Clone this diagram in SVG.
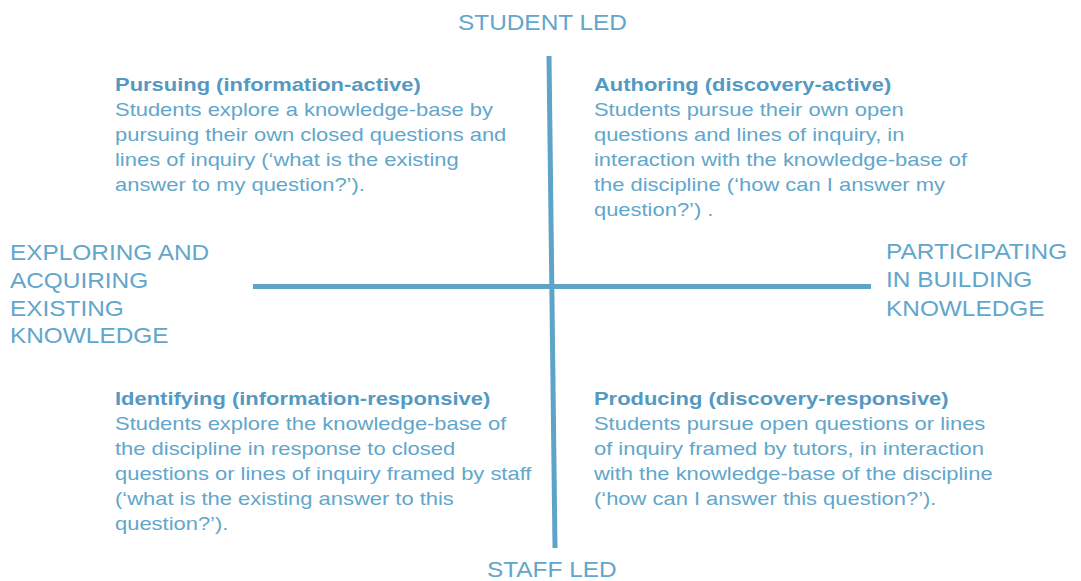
<svg xmlns="http://www.w3.org/2000/svg" width="1081" height="581" viewBox="0 0 1081 581">
  <style>
    text { font-family: "Liberation Sans", Arial, Helvetica, sans-serif; fill: #62a6cb; }
    .label { font-size: 21.4px; }
    .body { font-size: 19.25px; }
    .head { font-size: 19.25px; font-weight: bold; fill: #5499c2; }
    .axis { stroke: #5ea3c8; stroke-width: 5; fill: none; }
  </style>
  <rect width="1081" height="581" fill="#ffffff"/>
  <g id="connectors">
    <line class="axis" x1="549" y1="56" x2="555" y2="548"/>
    <line class="axis" x1="253" y1="286.5" x2="871" y2="286.5"/>
  </g>
  <g transform="translate(0,1) scale(1.14,1)">
    <g id="student-led">
      <text class="label" x="401.75" y="29">STUDENT LED</text>
    </g>
    <g id="staff-led">
      <text class="label" x="427.2" y="576.5">STAFF LED</text>
    </g>
    <g id="exploring">
      <text class="label" x="8.77" y="259.5">EXPLORING AND</text>
      <text class="label" x="8.77" y="287">ACQUIRING</text>
      <text class="label" x="8.77" y="314.5">EXISTING</text>
      <text class="label" x="8.77" y="342">KNOWLEDGE</text>
    </g>
    <g id="participating">
      <text class="label" x="777.2" y="258.5">PARTICIPATING</text>
      <text class="label" x="777.2" y="286.5">IN BUILDING</text>
      <text class="label" x="777.2" y="314.5">KNOWLEDGE</text>
    </g>
    <g id="pursuing">
      <text class="head" x="100.88" y="90.5">Pursuing (information-active)</text>
      <text class="body" x="100.88" y="115.5">Students explore a knowledge-base by</text>
      <text class="body" x="100.88" y="140.5">pursuing their own closed questions and</text>
      <text class="body" x="100.88" y="165.5">lines of inquiry (‘what is the existing</text>
      <text class="body" x="100.88" y="190.5">answer to my question?’).</text>
    </g>
    <g id="authoring">
      <text class="head" x="521.05" y="90.5">Authoring (discovery-active)</text>
      <text class="body" x="521.05" y="115.5">Students pursue their own open</text>
      <text class="body" x="521.05" y="140.5">questions and lines of inquiry, in</text>
      <text class="body" x="521.05" y="165.5">interaction with the knowledge-base of</text>
      <text class="body" x="521.05" y="190.5">the discipline (‘how can I answer my</text>
      <text class="body" x="521.05" y="215.5">question?’) .</text>
    </g>
    <g id="identifying">
      <text class="head" x="100.88" y="404">Identifying (information-responsive)</text>
      <text class="body" x="100.88" y="429">Students explore the knowledge-base of</text>
      <text class="body" x="100.88" y="454">the discipline in response to closed</text>
      <text class="body" x="100.88" y="479">questions or lines of inquiry framed by staff</text>
      <text class="body" x="100.88" y="504">(‘what is the existing answer to this</text>
      <text class="body" x="100.88" y="529">question?’).</text>
    </g>
    <g id="producing">
      <text class="head" x="521.05" y="404">Producing (discovery-responsive)</text>
      <text class="body" x="521.05" y="429">Students pursue open questions or lines</text>
      <text class="body" x="521.05" y="454">of inquiry framed by tutors, in interaction</text>
      <text class="body" x="521.05" y="479">with the knowledge-base of the discipline</text>
      <text class="body" x="521.05" y="504">(‘how can I answer this question?’).</text>
    </g>
  </g>
</svg>
